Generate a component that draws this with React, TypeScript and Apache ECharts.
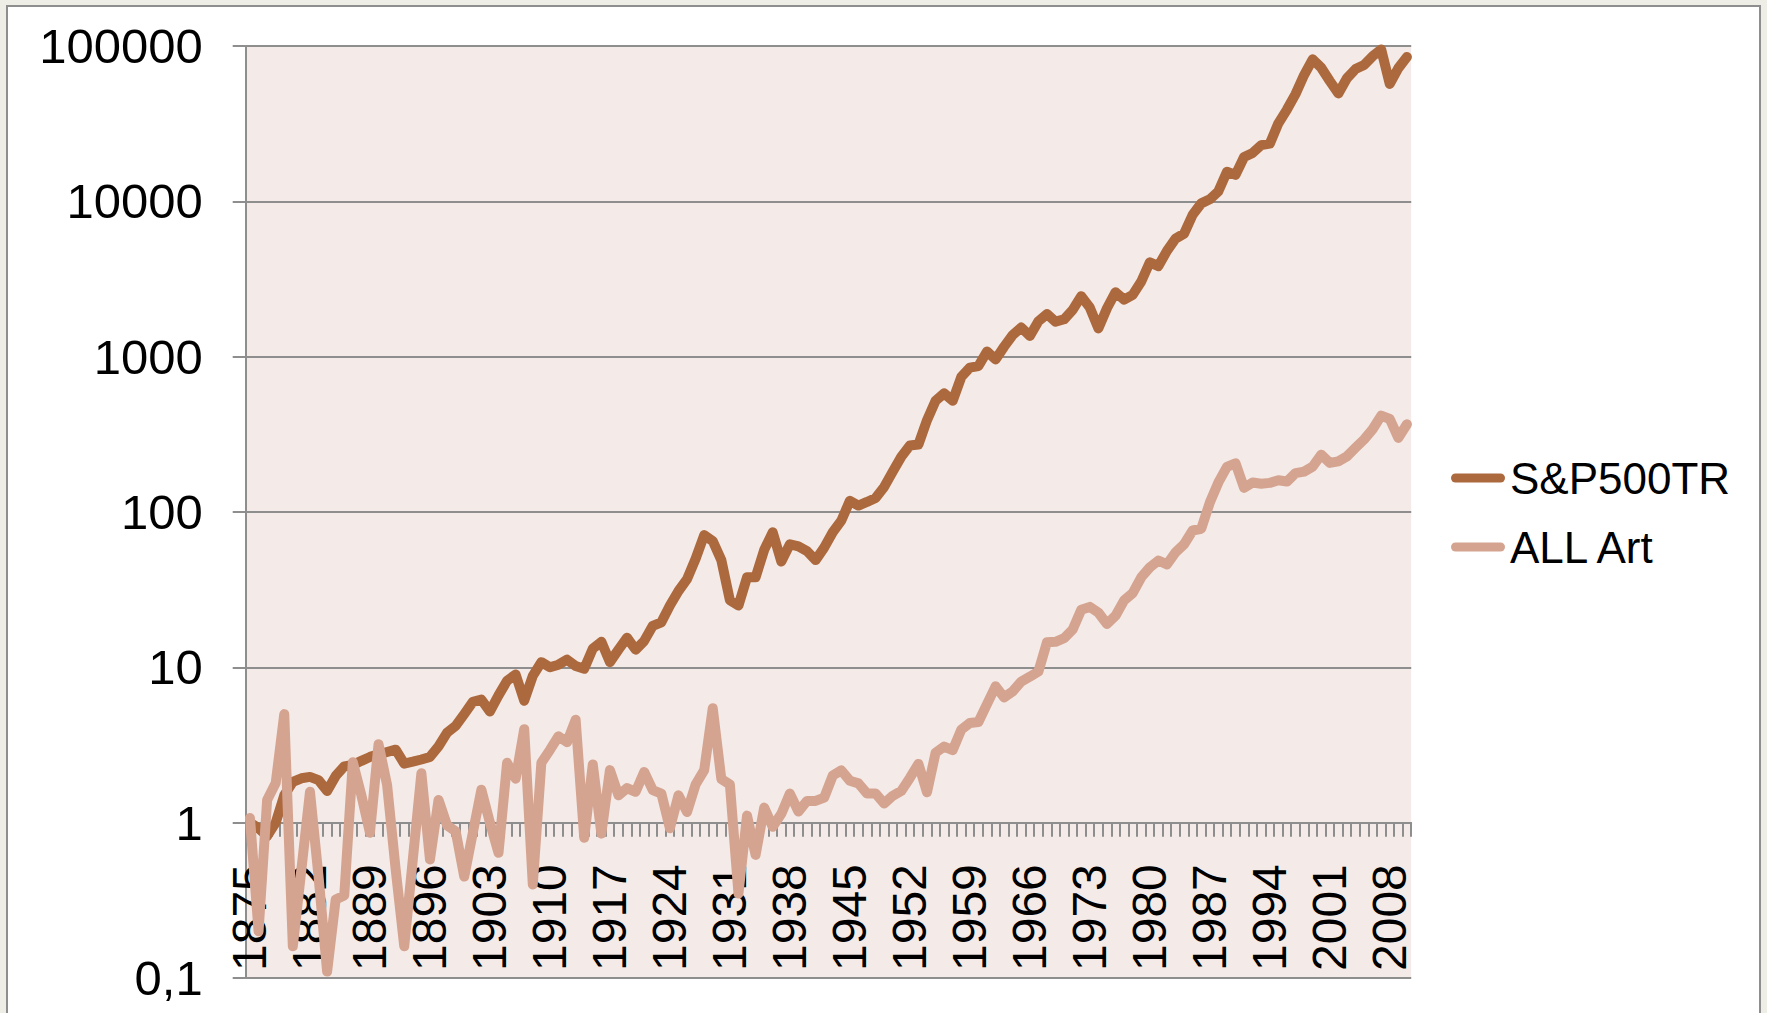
import React, { useEffect, useRef } from 'react';
import * as echarts from 'echarts';

const FIRST_YEAR = 1875;
const LAST_YEAR = 2010;
const years: string[] = [];
for (let y = FIRST_YEAR; y <= LAST_YEAR; y++) years.push(String(y));

// S&P 500 total return index (log scale), 1875-2010
const sp500tr: number[] = [
  1.0, 0.92, 0.82, 1.0, 1.5, 1.83, 1.93, 1.97, 1.88, 1.6, // 1875-1884
  2.0, 2.3, 2.35, 2.5, 2.65, 2.75, 2.85, 2.95, 2.4, 2.47, // 1885-1894
  2.55, 2.65, 3.1, 3.8, 4.2, 5.0, 6.0, 6.2, 5.2, 6.6, // 1895-1904
  8.2, 9.0, 6.1, 8.8, 10.8, 10.0, 10.4, 11.2, 10.2, 9.8, // 1905-1914
  13.2, 14.6, 10.8, 13.0, 15.5, 13.0, 14.8, 18.5, 19.5, 25, // 1915-1924
  31, 37, 50, 71, 65, 49, 27, 25, 38, 38, // 1925-1934
  57, 74, 48, 62, 60, 56, 49, 59, 74, 88, // 1935-1944
  118, 110, 116, 123, 145, 182, 227, 268, 272, 390, // 1945-1954
  520, 580, 520, 740, 850, 870, 1080, 960, 1160, 1380, // 1955-1964
  1540, 1360, 1690, 1880, 1680, 1740, 2000, 2450, 2070, 1520, // 1965-1974
  2050, 2600, 2330, 2500, 3050, 4050, 3830, 4800, 5750, 6200, // 1975-1984
  8200, 9700, 10300, 11600, 15500, 14800, 19300, 20500, 23000, 23500, // 1985-1994
  31800, 39000, 49000, 65000, 82000, 72500, 59500, 49500, 62000, 71000, // 1995-2004
  75500, 86000, 95000, 57000, 72000, 85000, // 2005-2010
];

// Mei Moses "All Art" index, 1875-2010
const allArt: number[] = [
  1.07, 0.2, 1.4, 1.8, 5.0, 0.16, 0.5, 1.58, 0.45, 0.11, // 1875-1884
  0.32, 0.34, 2.45, 1.5, 0.86, 3.2, 1.75, 0.5, 0.16, 0.58, // 1885-1894
  2.08, 0.58, 1.4, 0.96, 0.88, 0.45, 0.86, 1.63, 1.0, 0.64, // 1895-1904
  2.43, 1.92, 4.0, 0.4, 2.43, 2.94, 3.6, 3.3, 4.6, 0.8, // 1905-1914
  2.37, 0.85, 2.18, 1.5, 1.67, 1.58, 2.12, 1.62, 1.54, 0.92, // 1915-1924
  1.5, 1.17, 1.76, 2.18, 5.45, 1.91, 1.76, 0.35, 1.11, 0.62, // 1925-1934
  1.25, 0.94, 1.14, 1.54, 1.18, 1.38, 1.38, 1.45, 2.01, 2.17, // 1935-1944
  1.86, 1.79, 1.54, 1.54, 1.33, 1.49, 1.6, 1.94, 2.39, 1.57, // 1945-1954
  2.82, 3.09, 2.93, 3.97, 4.38, 4.45, 5.79, 7.55, 6.4, 7.0, // 1955-1964
  8.1, 8.7, 9.4, 14.5, 14.6, 15.4, 17.5, 23.5, 24.5, 22.5, // 1965-1974
  19, 21.5, 27, 30, 38, 44, 48.7, 46, 55, 62, // 1975-1984
  76, 78, 115, 155, 195, 206, 143, 155, 152, 154, // 1985-1994
  160, 157, 178, 182, 196, 234, 207, 212, 228, 259, // 1995-2004
  293, 341, 417, 397, 300, 367, // 2005-2010
];

const seriesNames = ['S&P500TR', 'ALL Art'];
const seriesColors = ['#AD693E', '#D5A491'];

const Y_MIN = 0.1;
const Y_MAX = 100000;

const FONT = 'Liberation Sans';
const GRID_LEFT = 245.7;
const GRID_TOP = 46;
const GRID_W = 1165.5;
const GRID_H = 932;
const AXIS_GRAY = '#8E8E8E';
const LINE_W = 10;

export default function App() {
  const ref = useRef<HTMLDivElement>(null);

  useEffect(() => {
    document.body.style.margin = '0';
    const chart = echarts.init(ref.current as HTMLDivElement, null, { renderer: 'svg' });
    const decades = Math.log10(Y_MAX) - Math.log10(Y_MIN);
    chart.setOption({
      animation: false,
      textStyle: { fontFamily: FONT },
      grid: {
        left: GRID_LEFT,
        top: GRID_TOP,
        width: GRID_W,
        height: GRID_H,
        show: true,
        backgroundColor: '#F4EBE8',
        borderWidth: 0,
        containLabel: false,
      },
      legend: {
        orient: 'vertical',
        left: 1451,
        top: 456,
        padding: 0,
        itemWidth: 54,
        itemHeight: 9,
        itemGap: 25,
        icon: 'path://M4.5,0 H49.5 A4.5,4.5 0 0 1 49.5,9 H4.5 A4.5,4.5 0 0 1 4.5,0 Z',
        textStyle: { fontSize: 44, color: '#000000', fontFamily: FONT },
        data: seriesNames,
      },
      xAxis: [
        {
          type: 'category',
          data: years,
          position: 'bottom',
          boundaryGap: true,
          axisLine: { show: false },
          axisTick: { show: false },
          splitLine: { show: false },
          axisLabel: {
            interval: 6,
            rotate: 90,
            inside: true,
            margin: 7,
            fontSize: 48,
            color: '#000000',
            fontFamily: FONT,
          },
        },
        {
          type: 'category',
          data: years,
          position: 'bottom',
          offset: -GRID_H / decades,
          boundaryGap: true,
          axisLine: { show: true, lineStyle: { color: AXIS_GRAY, width: 2 } },
          axisTick: { show: true, interval: 0, length: 14, lineStyle: { color: AXIS_GRAY, width: 2 } },
          axisLabel: { show: false },
          splitLine: { show: false },
        },
      ],
      yAxis: {
        type: 'log',
        logBase: 10,
        min: Y_MIN,
        max: Y_MAX,
        axisLine: { show: true, lineStyle: { color: AXIS_GRAY, width: 2 } },
        axisTick: { show: true, length: 13, lineStyle: { color: AXIS_GRAY, width: 2 } },
        splitLine: { show: true, lineStyle: { color: AXIS_GRAY, width: 2 } },
        axisLabel: {
          margin: 43,
          fontSize: 49,
          color: '#000000',
          fontFamily: FONT,
          formatter: (v: number) => (v < 1 ? '0,1' : String(Math.round(v))),
        },
      },
      series: [
        {
          name: seriesNames[0],
          type: 'line',
          xAxisIndex: 0,
          data: sp500tr,
          symbol: 'none',
          color: seriesColors[0],
          lineStyle: { color: seriesColors[0], width: LINE_W, cap: 'round', join: 'round' },
        },
        {
          name: seriesNames[1],
          type: 'line',
          xAxisIndex: 0,
          data: allArt,
          symbol: 'none',
          color: seriesColors[1],
          lineStyle: { color: seriesColors[1], width: LINE_W, cap: 'round', join: 'round' },
        },
      ],
    });
    return () => chart.dispose();
  }, []);

  return (
    <div
      style={{
        position: 'fixed',
        left: 0,
        top: 0,
        width: 1767,
        height: 1013,
        background: '#EFEEE6',
        overflow: 'hidden',
      }}
    >
      <div
        style={{
          position: 'absolute',
          left: 6,
          top: 5,
          width: 1755,
          height: 1100,
          background: '#FFFFFF',
          border: `2px solid ${AXIS_GRAY}`,
          boxSizing: 'border-box',
        }}
      />
      <div ref={ref} style={{ position: 'absolute', left: 0, top: 0, width: 1767, height: 1013 }} />
    </div>
  );
}
